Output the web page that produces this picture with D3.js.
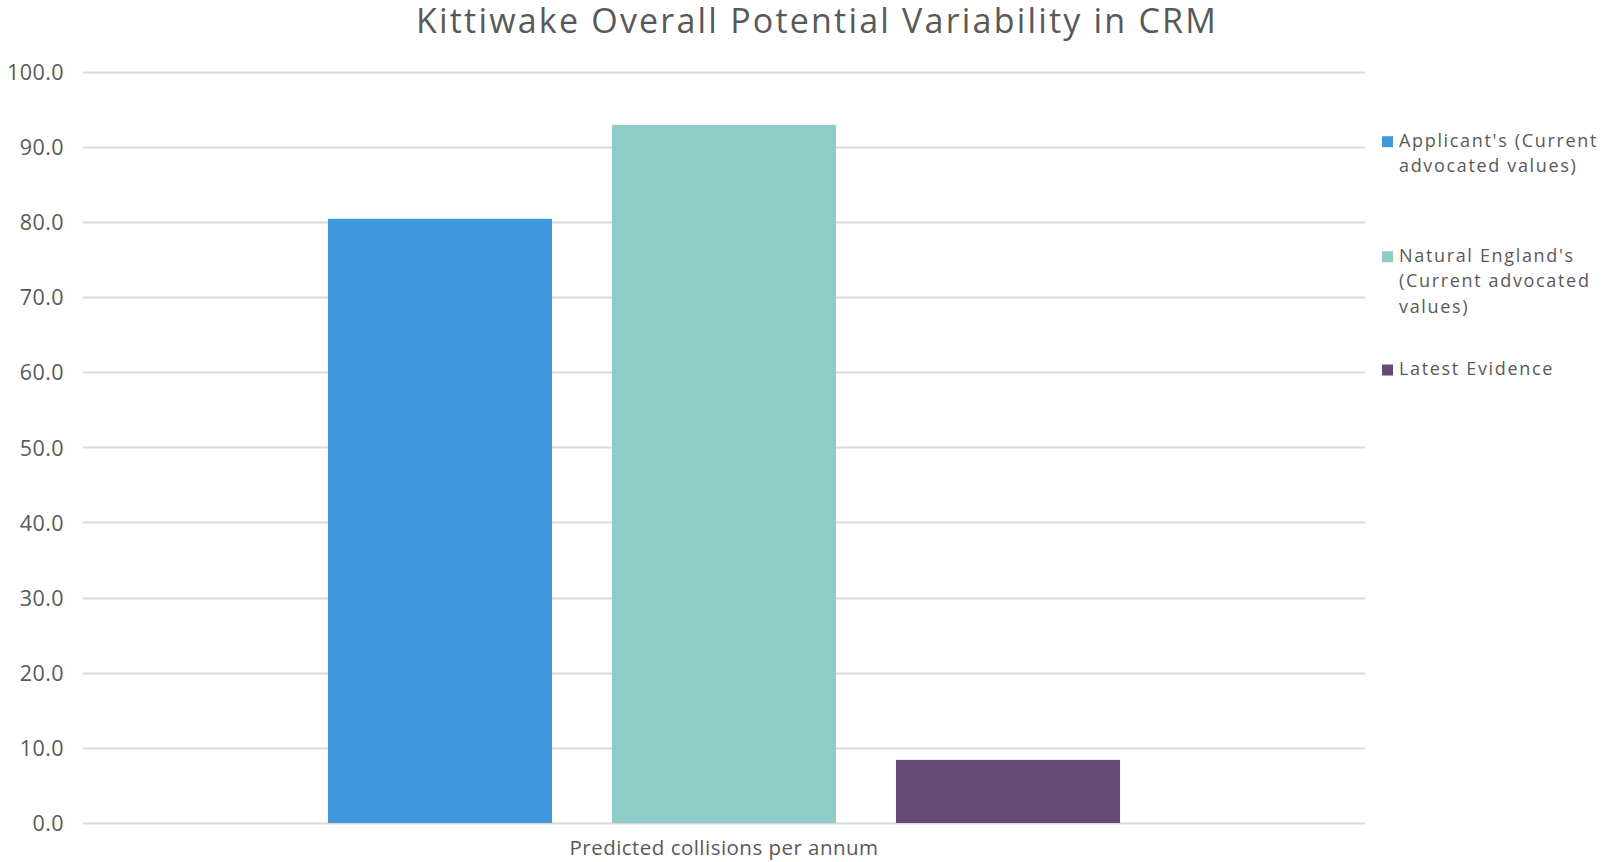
<!DOCTYPE html>
<html>
<head>
<meta charset="utf-8">
<script src="https://cdn.jsdelivr.net/npm/d3@7"></script>
<style>
  html, body { margin: 0; padding: 0; background: #fff; }
  svg { display: block; }
  text { font-family: "Open Sans", Lato, sans-serif; fill: #595959; }
</style>
</head>
<body>
<svg id="chart" width="1601" height="862"></svg>
<script>
const title = "Kittiwake Overall Potential Variability in CRM";
const categories = ["Predicted collisions per annum"];
const seriesNames = ["Applicant's (Current advocated values)", "Natural England's (Current advocated values)", "Latest Evidence"];
const seriesLegendLines = [["Applicant's (Current", "advocated values)"], ["Natural England's", "(Current advocated", "values)"], ["Latest Evidence"]];
const seriesValues = [80.4, 92.9, 8.4];
const seriesColors = ["#4097DB", "#8FCCC7", "#654A74"];
const yTicks = [0, 10, 20, 30, 40, 50, 60, 70, 80, 90, 100];

const svg = d3.select("#chart");
const plotLeft = 83, plotRight = 1365, plotTop = 71.5, plotBottom = 823;

// helper: spacing so that a text node spans a target width
function spacingFor(node, target) {
  const n = node.textContent.length;
  const len = node.getComputedTextLength();
  return (target - len) / Math.max(1, n);
}

const y = d3.scaleLinear().domain([0, 100]).range([plotBottom, plotTop]);
const x0 = d3.scaleBand().domain(categories).range([plotLeft, plotRight]).padding(0.2362);
const x1 = d3.scaleBand().domain(seriesNames).range([0, x0.bandwidth()]).paddingInner(0.211).paddingOuter(0);

// gridlines
svg.append("g")
  .selectAll("line").data(yTicks).join("line")
  .attr("x1", plotLeft).attr("x2", plotRight)
  .attr("y1", d => Math.round(y(d)) + 0.5).attr("y2", d => Math.round(y(d)) + 0.5)
  .attr("stroke", "#D9D9D9").attr("stroke-width", 2);

// y axis labels
const yAxis = d3.axisLeft(y).tickValues(yTicks).tickFormat(d3.format(".1f")).tickSize(0).tickPadding(0);
const gy = svg.append("g").attr("transform", `translate(${64},0)`).call(yAxis);
gy.select(".domain").remove();
const yTexts = gy.selectAll("text").attr("font-size", 21.5).attr("fill", "#595959")
  .style("font-family", '"Open Sans", sans-serif').attr("dy", "0.36em");
{
  const n100 = yTexts.filter(d => d === 100).node();
  const ls = spacingFor(n100, 57);
  yTexts.style("letter-spacing", ls + "px");
}

// bars
const groups = svg.append("g").selectAll("g").data(categories).join("g")
  .attr("transform", d => `translate(${x0(d)},0)`);
groups.selectAll("rect")
  .data(() => seriesNames.map((s, i) => ({ s, v: seriesValues[i], c: seriesColors[i] })))
  .join("rect")
  .attr("x", d => x1(d.s))
  .attr("width", x1.bandwidth())
  .attr("y", d => y(d.v))
  .attr("height", d => y(0) - y(d.v))
  .attr("fill", d => d.c);

// x axis label
const xAxis = d3.axisBottom(x0).tickSize(0).tickPadding(0);
const gx = svg.append("g").attr("transform", `translate(0,${plotBottom})`).call(xAxis);
gx.select(".domain").remove();
const xText = gx.selectAll("text").attr("font-size", 20.5).attr("fill", "#595959")
  .style("font-family", '"Open Sans", sans-serif').attr("dy", "1.55em");
xText.style("letter-spacing", spacingFor(xText.node(), 309) + "px");

// title
const tt = svg.append("text").attr("x", 817).attr("y", 33).attr("text-anchor", "middle")
  .attr("font-size", 34).attr("font-weight", 400).text(title);
tt.style("letter-spacing", spacingFor(tt.node(), 802) + "px");

// legend
const legendY = [146.7, 261.7, 375];
const leg = svg.append("g");
const legTexts = [];
seriesNames.forEach((s, i) => {
  const g = leg.append("g");
  g.append("rect").attr("x", 1382).attr("y", legendY[i] - 10.5).attr("width", 11).attr("height", 11).attr("fill", seriesColors[i]);
  const t = g.append("text").attr("x", 1399).attr("y", legendY[i]).attr("font-size", 18);
  t.selectAll("tspan").data(seriesLegendLines[i]).join("tspan")
    .attr("x", 1399).attr("dy", (d, j) => j === 0 ? 0 : 25.5).text(d => d);
  legTexts.push(t);
});
{
  const first = legTexts[0].select("tspan").node();
  const n = first.textContent.length;
  const ls = (199 - first.getComputedTextLength()) / n;
  legTexts.forEach(t => t.style("letter-spacing", ls + "px"));
}
</script>
</body>
</html>
